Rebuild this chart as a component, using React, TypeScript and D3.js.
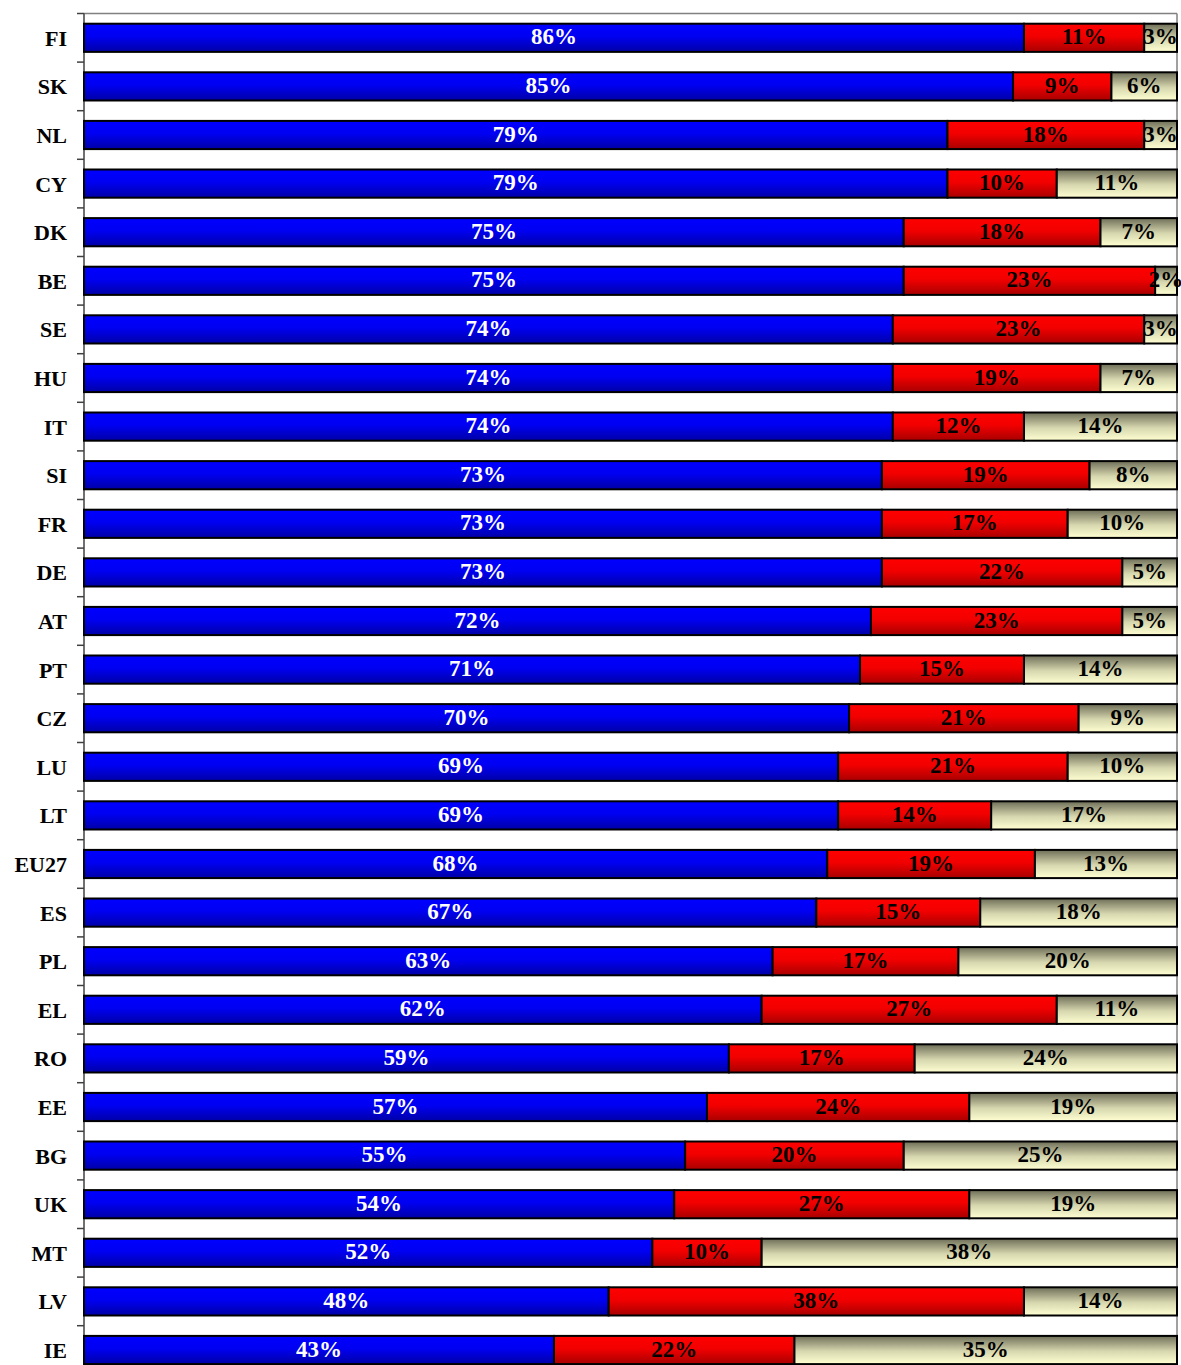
import React from 'react';
import * as d3 from 'd3';

// Countries, top to bottom
const countries = [
  'FI', 'SK', 'NL', 'CY', 'DK', 'BE', 'SE', 'HU', 'IT', 'SI', 'FR', 'DE', 'AT', 'PT',
  'CZ', 'LU', 'LT', 'EU27', 'ES', 'PL', 'EL', 'RO', 'EE', 'BG', 'UK', 'MT', 'LV', 'IE',
];

// Three series, in percent
const blueValues = [86, 85, 79, 79, 75, 75, 74, 74, 74, 73, 73, 73, 72, 71, 70, 69, 69, 68, 67, 63, 62, 59, 57, 55, 54, 52, 48, 43];
const redValues = [11, 9, 18, 10, 18, 23, 23, 19, 12, 19, 17, 22, 23, 15, 21, 21, 14, 19, 15, 17, 27, 17, 24, 20, 27, 10, 38, 22];
const beigeValues = [3, 6, 3, 11, 7, 2, 3, 7, 14, 8, 10, 5, 5, 14, 9, 10, 17, 13, 18, 20, 11, 24, 19, 25, 19, 38, 14, 35];

const seriesKeys = ['blue', 'red', 'beige'];

const width = 1181;
const height = 1365;
const left = 84;
const right = 1177;
const top = 13.5;
const step = 48.6;

const App = () => {
  const rows = countries.map((c, i) => ({
    country: c,
    blue: blueValues[i],
    red: redValues[i],
    beige: beigeValues[i],
  }));

  const x = d3.scaleLinear().domain([0, 100]).range([left, right]);
  const y = d3
    .scaleBand()
    .domain(countries)
    .range([top, top + step * countries.length])
    .paddingInner(0.42)
    .paddingOuter(0.21);

  const stacked = d3.stack().keys(seriesKeys)(rows as any);
  const labelColor = { blue: '#fff', red: '#000', beige: '#000' };
  const font = '"Liberation Serif", "Times New Roman", serif';
  const bottom = top + step * countries.length;

  return (
    <svg
      width={width}
      height={height}
      style={{ position: 'absolute', left: 0, top: 0, background: '#fff' }}
    >
      <defs>
        <linearGradient id="g-blue" x1="0" y1="0" x2="0" y2="1">
          <stop offset="0%" stopColor="#0000ff" />
          <stop offset="45%" stopColor="#0000f2" />
          <stop offset="100%" stopColor="#0000a6" />
        </linearGradient>
        <linearGradient id="g-red" x1="0" y1="0" x2="0" y2="1">
          <stop offset="0%" stopColor="#ff0000" />
          <stop offset="45%" stopColor="#f20000" />
          <stop offset="100%" stopColor="#a80000" />
        </linearGradient>
        <linearGradient id="g-beige" x1="0" y1="0" x2="0" y2="1">
          <stop offset="0%" stopColor="#6e6e58" />
          <stop offset="55%" stopColor="#d8d8b0" />
          <stop offset="100%" stopColor="#ffffd2" />
        </linearGradient>
      </defs>

      {/* frame */}
      <line x1={left} x2={right} y1={top} y2={top} stroke="#808080" strokeWidth={1.5} />
      <line x1={right} x2={right} y1={top} y2={bottom} stroke="#808080" strokeWidth={1.5} />
      <line x1={left} x2={left} y1={top} y2={bottom} stroke="#404040" strokeWidth={1.5} />
      {d3.range(countries.length + 1).map((k) => (
        <line
          key={k}
          x1={left - 7}
          x2={left}
          y1={top + k * step}
          y2={top + k * step}
          stroke="#404040"
          strokeWidth={1.5}
        />
      ))}

      {stacked.map((series) => (
        <g key={series.key}>
          {series.map((d, i) => {
            const c = countries[i];
            const x0 = x(d[0]);
            const x1 = x(d[1]);
            return (
              <rect
                key={c}
                x={x0}
                y={y(c)!}
                width={x1 - x0}
                height={y.bandwidth()}
                fill={`url(#g-${series.key})`}
                stroke="#000"
                strokeWidth={2}
              />
            );
          })}
        </g>
      ))}

      {stacked.map((series) => (
        <g key={series.key + '-lbl'}>
          {series.map((d, i) => {
            const c = countries[i];
            const v = d[1] - d[0];
            return (
              <text
                key={c}
                x={(x(d[0]) + x(d[1])) / 2}
                y={y(c)! + y.bandwidth() / 2 + 6.5}
                textAnchor="middle"
                fontFamily={font}
                fontWeight="bold"
                fontSize={23}
                fill={(labelColor as any)[series.key]}
              >
                {`${v}%`}
              </text>
            );
          })}
        </g>
      ))}

      {countries.map((c) => (
        <text
          key={c}
          x={67}
          y={y(c)! + y.bandwidth() / 2 + 8}
          textAnchor="end"
          fontFamily={font}
          fontWeight="bold"
          fontSize={22}
          fill="#000"
        >
          {c}
        </text>
      ))}
    </svg>
  );
};

export default App;
